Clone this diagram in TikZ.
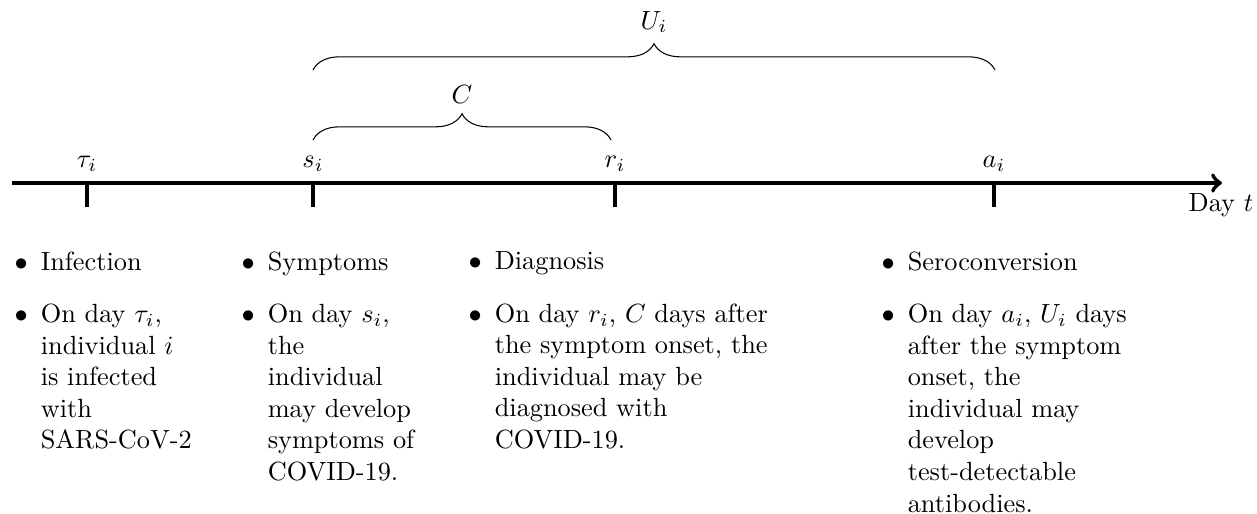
\documentclass[tikz,border=0pt]{standalone}
\usetikzlibrary{decorations.pathreplacing}
\renewcommand{\labelitemi}{$\bullet$}
\newcommand{\evcol}[2]{\begin{minipage}[t]{#1}\raggedright\setlength{\leftmargini}{10pt}\setlength{\labelsep}{5pt}\begin{itemize}\setlength{\itemsep}{4pt}\raggedright #2\end{itemize}\end{minipage}}
\begin{document}
\begin{tikzpicture}[x=0.3802pt,y=-0.3802pt,
  axisline/.style={line width=1.6pt},
  tickmark/.style={line width=1.6pt},
  span/.style={decorate,decoration={brace,amplitude=10pt}},
  lbl/.style={inner sep=0pt},
  col/.style={inner sep=0pt,anchor=north west}]
\useasboundingbox (0,0) rectangle (1257,514);
% axis
\coordinate (a0) at (12,183);
\coordinate (a1) at (1222,183);
\draw[axisline,->] (a0) -- (a1);
\node[lbl] (day) at (1221,205) {Day $t$};
% ticks
\coordinate (ktau) at (87,183);
\coordinate (ks) at (313,183);
\coordinate (kr) at (615,183);
\coordinate (ka) at (994,183);
\coordinate (ktaub) at (87,207);
\coordinate (ksb) at (313,207);
\coordinate (krb) at (615,207);
\coordinate (kab) at (994,207);
\draw[tickmark] (ktau) -- (ktaub);
\draw[tickmark] (ks) -- (ksb);
\draw[tickmark] (kr) -- (krb);
\draw[tickmark] (ka) -- (kab);
\node[lbl] (ltau) at (87,164) {$\tau_i$};
\node[lbl] (ls) at (313,164) {$s_i$};
\node[lbl] (lr) at (615,164) {$r_i$};
\node[lbl] (la) at (994,164) {$a_i$};
% braces
\coordinate (cl) at (313,140);
\coordinate (cr) at (611,140);
\coordinate (ul) at (313,70);
\coordinate (ur) at (995,70);
\draw[span] (cl) -- (cr);
\draw[span] (ul) -- (ur);
\node[lbl] (lc) at (462,95) {$C$};
\node[lbl] (lu) at (654,22) {$U_i$};
% columns
\node[col] (cinf) at (14,251) {\evcol{68.5pt}{\item Infection \item On day $\tau_i$, individual $i$ is infected with SARS-CoV-2}};
\node[col] (csym) at (241,251) {\evcol{68.5pt}{\item Symptoms \item On day $s_i$, the individual may develop symptoms of COVID-19.}};
\node[col] (cdia) at (468,251) {\evcol{120pt}{\item Diagnosis \item On day $r_i$, $C$ days after the symptom onset, the individual may be diagnosed with COVID-19.}};
\node[col] (cser) at (881,251) {\evcol{96pt}{\item Seroconversion \item On day $a_i$, $U_i$ days after the symptom onset, the individual may develop test-detectable antibodies.}};
\end{tikzpicture}
\end{document}
